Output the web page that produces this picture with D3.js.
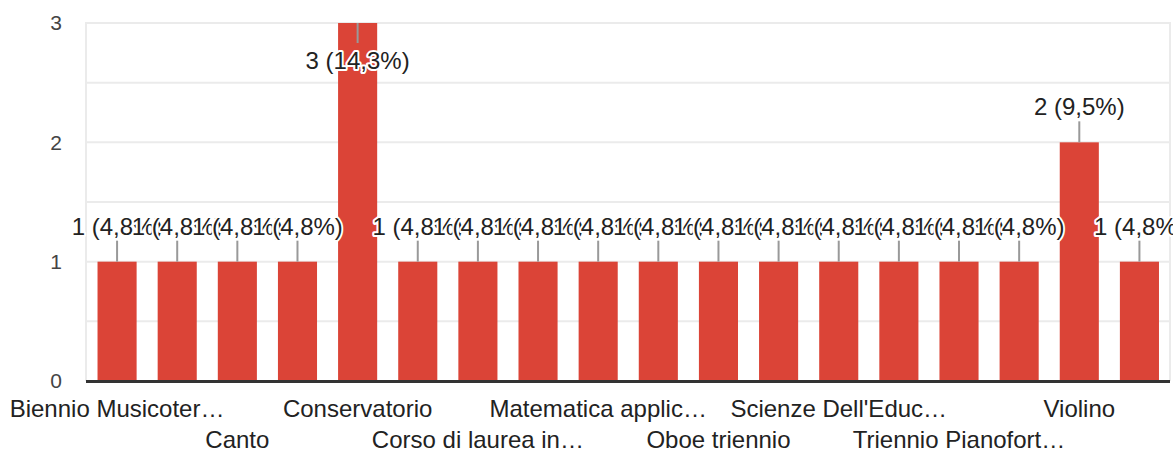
<!DOCTYPE html>
<html>
<head>
<meta charset="utf-8">
<script src="https://cdn.jsdelivr.net/npm/d3@7"></script>
<style>
  html, body { margin: 0; padding: 0; background: #fff; }
  svg { display: block; font-family: Arial, "Liberation Sans", sans-serif; }
</style>
</head>
<body>
<svg id="chart" width="1173" height="450"></svg>
<script>
// labels as they appear on the chart (odd ones are hidden by the chart, so left blank)
var categories = ['Biennio Musicoter…', '', 'Canto', '', 'Conservatorio', '',
  'Corso di laurea in…', '', 'Matematica applic…', '', 'Oboe triennio', '',
  "Scienze Dell'Educ…", '', 'Triennio Pianofort…', '', 'Violino', ''];
var counts = [1, 1, 1, 1, 3, 1, 1, 1, 1, 1, 1, 1, 1, 1, 1, 1, 2, 1];
var percents = ['4,8%', '4,8%', '4,8%', '4,8%', '14,3%', '4,8%', '4,8%', '4,8%', '4,8%',
  '4,8%', '4,8%', '4,8%', '4,8%', '4,8%', '4,8%', '4,8%', '9,5%', '4,8%'];
var yTicks = [0, 1, 2, 3];

var svg = d3.select('#chart');
var plotLeft = 87, plotRight = 1169.5, plotTop = 23, plotBottom = 381;

var x = d3.scaleBand()
  .domain(d3.range(counts.length))
  .range([plotLeft, plotRight])
  .paddingInner(0.35)
  .paddingOuter(0.175);

var y = d3.scaleLinear().domain([0, 3]).range([plotBottom, plotTop]);

// gridlines (major + minor)
var grid = svg.append('g');
grid.selectAll('line')
  .data(d3.range(0, 3.01, 0.5))
  .enter().append('line')
  .attr('x1', plotLeft).attr('x2', 1170)
  .attr('y1', function(d){ return y(d); })
  .attr('y2', function(d){ return y(d); })
  .attr('stroke', '#ebebeb')
  .attr('stroke-width', 2);
grid.append('line').attr('x1', plotLeft - 1).attr('x2', plotLeft - 1)
  .attr('y1', plotTop - 1).attr('y2', plotBottom)
  .attr('stroke', '#ebebeb').attr('stroke-width', 2);
grid.append('line').attr('x1', 1170).attr('x2', 1170)
  .attr('y1', plotTop - 1).attr('y2', plotBottom)
  .attr('stroke', '#ebebeb').attr('stroke-width', 2);

// y tick labels
svg.append('g').selectAll('text')
  .data(yTicks)
  .enter().append('text')
  .attr('x', 62)
  .attr('y', function(d){ return y(d); })
  .attr('dy', '0.35em')
  .attr('text-anchor', 'end')
  .attr('font-size', 21)
  .attr('fill', '#444')
  .text(function(d){ return d; });

// bars
svg.append('g').selectAll('rect')
  .data(counts)
  .enter().append('rect')
  .attr('x', function(d, i){ return x(i); })
  .attr('y', function(d){ return y(d); })
  .attr('width', x.bandwidth())
  .attr('height', function(d){ return plotBottom - y(d); })
  .attr('fill', '#db4437');

// baseline
svg.append('line')
  .attr('x1', plotLeft - 1).attr('x2', 1170)
  .attr('y1', plotBottom + 0.5).attr('y2', plotBottom + 0.5)
  .attr('stroke', '#333').attr('stroke-width', 3);

// annotations: stem + label with white halo, drawn left to right
var ann = svg.append('g');
counts.forEach(function(d, i){
  var cx = x(i) + x.bandwidth() / 2;
  var yTop = y(d);
  var inside = d === 3;  // no room above the tallest bar, label goes below the top
  var g = ann.append('g');
  g.append('line')
    .attr('x1', cx).attr('x2', cx)
    .attr('y1', yTop)
    .attr('y2', inside ? yTop + 20 : yTop - 21)
    .attr('stroke', '#999').attr('stroke-width', 2);
  g.append('text')
    .attr('x', cx)
    .attr('y', inside ? yTop + 46 : yTop - 27)
    .attr('text-anchor', 'middle')
    .attr('font-size', 24)
    .attr('fill', '#222')
    .attr('stroke', '#fff')
    .attr('stroke-width', 4)
    .attr('stroke-linejoin', 'round')
    .attr('paint-order', 'stroke')
    .text(d + ' (' + percents[i] + ')');
});

// x labels, alternating rows
svg.append('g').selectAll('text')
  .data(categories)
  .enter().append('text')
  .attr('x', function(d, i){ return x(i) + x.bandwidth() / 2; })
  .attr('y', function(d, i){ return (i % 4 === 0) ? 417 : 448; })
  .attr('text-anchor', 'middle')
  .attr('font-size', 24)
  .attr('fill', '#222')
  .text(function(d){ return d; });
</script>
</body>
</html>
